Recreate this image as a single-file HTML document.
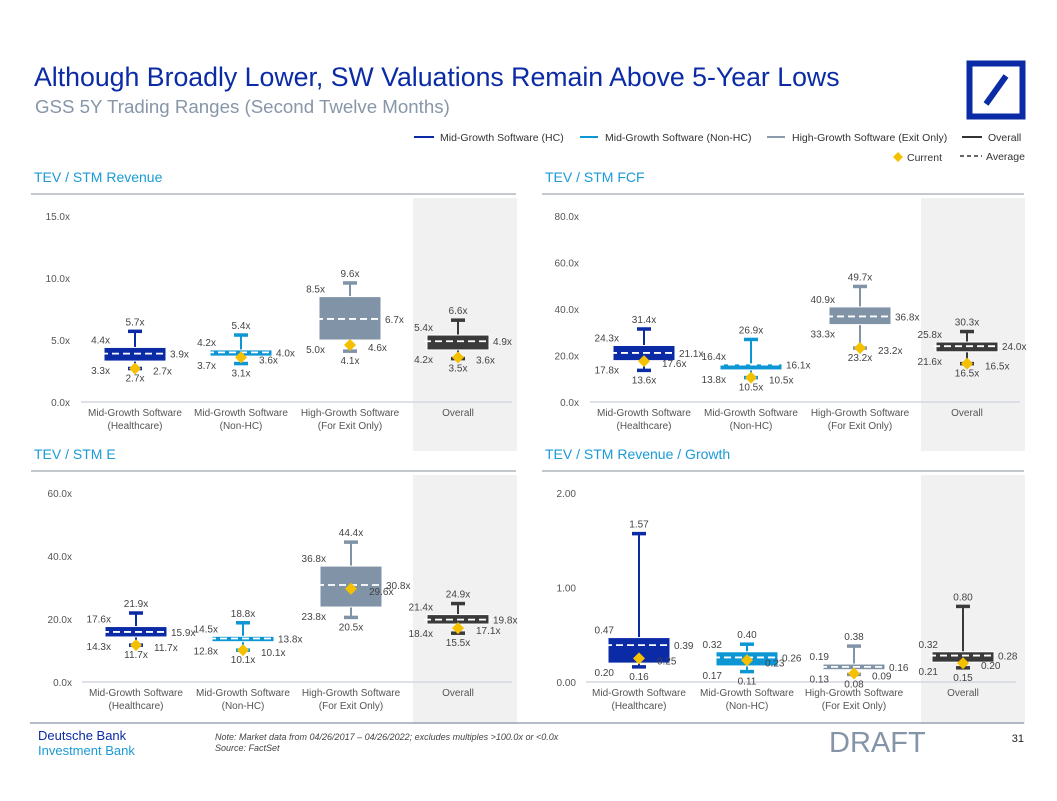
<!DOCTYPE html>
<html><head><meta charset="utf-8">
<style>
html,body{margin:0;padding:0;background:#fff;}
body{width:1057px;height:796px;overflow:hidden;font-family:"Liberation Sans",sans-serif;}
svg text{font-family:"Liberation Sans",sans-serif;}
</style></head>
<body>
<svg id="page" width="1057" height="796" viewBox="0 0 1057 796" xmlns="http://www.w3.org/2000/svg">
<text x="34" y="86" font-size="26.7" fill="#0b2ba6">Although Broadly Lower, SW Valuations Remain Above 5-Year Lows</text>
<text x="35" y="113" font-size="18.7" fill="#8796a8">GSS 5Y Trading Ranges (Second Twelve Months)</text>
<g>
<rect x="969.5" y="63.5" width="53" height="53" fill="none" stroke="#0b2ba6" stroke-width="6"/>
<line x1="986" y1="104" x2="1006" y2="76" stroke="#0b2ba6" stroke-width="6"/>
</g>
<g font-size="10.5" fill="#333">
<line x1="414" y1="137" x2="434" y2="137" stroke="#0b2ba6" stroke-width="2"/><text x="440" y="141">Mid-Growth Software (HC)</text>
<line x1="580" y1="137" x2="598" y2="137" stroke="#0d96d4" stroke-width="2"/><text x="605" y="141">Mid-Growth Software (Non-HC)</text>
<line x1="767" y1="137" x2="785" y2="137" stroke="#8a9aab" stroke-width="2"/><text x="792" y="141">High-Growth Software (Exit Only)</text>
<line x1="962" y1="137" x2="982" y2="137" stroke="#333" stroke-width="2"/><text x="988" y="141">Overall</text>
<path d="M898 152 L903 157 L898 162 L893 157 Z" fill="#f5c000"/><text x="907" y="161">Current</text>
<line x1="960" y1="156" x2="982" y2="156" stroke="#333" stroke-width="1.5" stroke-dasharray="4,3"/><text x="986" y="160">Average</text>
</g>
<g id="charts"></g>
<line x1="30" y1="723" x2="1024" y2="723" stroke="#9aa6b2" stroke-width="1.5"/>
<text x="38" y="740" font-size="13" fill="#0b2ba6">Deutsche Bank</text>
<text x="38" y="755" font-size="13" fill="#1a9ad6">Investment Bank</text>
<text x="215" y="740" font-size="9" font-style="italic" fill="#444">Note: Market data from 04/26/2017 – 04/26/2022; excludes multiples &gt;100.0x or &lt;0.0x</text>
<text x="215" y="751" font-size="9" font-style="italic" fill="#444">Source: FactSet</text>
<text x="829" y="752" font-size="29" fill="#8595a8">DRAFT</text>
<text x="1024" y="742" font-size="11" fill="#222" text-anchor="end">31</text>
</svg>
<script>
const categories = [["Mid-Growth Software","(Healthcare)"],["Mid-Growth Software","(Non-HC)"],["High-Growth Software","(For Exit Only)"],["Overall",""]];
// TEV / STM Revenue
const revMax=[5.7,5.4,9.6,6.6], revQ3=[4.4,4.2,8.5,5.4], revAvg=[3.9,4.0,6.7,4.9], revQ1=[3.3,3.7,5.0,4.2], revMin=[2.7,3.1,4.1,3.5], revCur=[2.7,3.6,4.6,3.6];
const revTicks=[0,5,10,15];
// TEV / STM FCF
const fcfMax=[31.4,26.9,49.7,30.3], fcfQ3=[24.3,16.4,40.9,25.8], fcfAvg=[21.1,16.1,36.8,24.0], fcfQ1=[17.8,13.8,33.3,21.6], fcfMin=[13.6,10.5,23.2,16.5], fcfCur=[17.6,10.5,23.2,16.5];
const fcfTicks=[0,20,40,60,80];
// TEV / STM E
const eMax=[21.9,18.8,44.4,24.9], eQ3=[17.6,14.5,36.8,21.4], eAvg=[15.9,13.8,30.8,19.8], eQ1=[14.3,12.8,23.8,18.4], eMin=[11.7,10.1,20.5,15.5], eCur=[11.7,10.1,29.6,17.1];
const eTicks=[0,20,40,60];
// TEV / STM Revenue / Growth
const gMax=[1.57,0.40,0.38,0.80], gQ3=[0.47,0.32,0.19,0.32], gAvg=[0.39,0.26,0.16,0.28], gQ1=[0.20,0.17,0.13,0.21], gMin=[0.16,0.11,0.08,0.15], gCur=[0.25,0.23,0.09,0.20];
const gTicks=[0,1,2];

const colors=["#0b2ba6","#0d96d4","#8093a7","#3a3a3a"];
const NS="http://www.w3.org/2000/svg";
const root=document.getElementById('charts');
function mk(tag,attrs,parent){const e=document.createElementNS(NS,tag);for(const k in attrs)e.setAttribute(k,attrs[k]);(parent||root).appendChild(e);return e;}
function txt(s,x,y,attrs,parent){const t=mk('text',Object.assign({x:x,y:y,'font-size':10,fill:'#444'},attrs),parent);t.textContent=s;return t;}

function panel(cfg){
  const g=mk('g',{});
  
  
  const t=txt(cfg.title,cfg.x0,cfg.titleY,{'font-size':14,fill:'#1a9ad6'},g);
  
  
  mk('line',{x1:cfg.x0-3,y1:cfg.titleY+12,x2:cfg.x1,y2:cfg.titleY+12,stroke:'#c4c8cc','stroke-width':2},g);
  const bg=mk('rect',{x:cfg.grayX,y:cfg.titleY+16,width:cfg.x1+1-cfg.grayX,height:cfg.grayH,fill:'#f1f1f1'},g);
  
  
  const tmax=cfg.ticks[cfg.ticks.length-1];
  const y=v=>cfg.zeroY-(v/tmax)*(cfg.zeroY-cfg.topY);
  const fmt=cfg.fmt;
  cfg.ticks.forEach(v=>{
    const tl=txt(cfg.tickFmt(v),cfg.tickX,y(v)+4,{'text-anchor':'end',fill:'#555'},g);
    
    
  });
  mk('line',{x1:cfg.axX0,y1:cfg.zeroY,x2:cfg.axX1,y2:cfg.zeroY,stroke:'#d4d8e0','stroke-width':1.5},g);
  const d=cfg.data;
  for(let i=0;i<4;i++){
    const cx=cfg.cx[i], c=colors[i], hw=31;
    const bx=mk('g',{},g);
    
    
    mk('line',{x1:cx,y1:y(d.max[i]),x2:cx,y2:y(d.min[i]),stroke:c,'stroke-width':2},bx);
    mk('line',{x1:cx-7,y1:y(d.max[i]),x2:cx+7,y2:y(d.max[i]),stroke:c,'stroke-width':3.5},bx);
    mk('line',{x1:cx-7,y1:y(d.min[i]),x2:cx+7,y2:y(d.min[i]),stroke:c,'stroke-width':3.5},bx);
    const top=y(d.q3[i]),bot=y(d.q1[i]);
    mk('rect',{x:cx-hw,y:top,width:2*hw,height:Math.max(bot-top,1),fill:c,stroke:'#fff','stroke-width':1},bx);
    mk('line',{x1:cx-hw-3,y1:y(d.avg[i]),x2:cx+hw+3,y2:y(d.avg[i]),stroke:'#fff','stroke-width':1.8,'stroke-dasharray':'7,4'},bx);
    const cy=y(d.cur[i]);
    mk('path',{d:`M${cx} ${cy-6} L${cx+6} ${cy} L${cx} ${cy+6} L${cx-6} ${cy} Z`,fill:'#f5c000'},bx);
    txt(fmt(d.max[i]),cx,y(d.max[i])-6,{'text-anchor':'middle'},bx);
    txt(fmt(d.q3[i]),cx-hw+6,top-4,{'text-anchor':'end'},bx);
    txt(fmt(d.q1[i]),cx-hw+6,bot+13,{'text-anchor':'end'},bx);
    txt(fmt(d.avg[i]),cx+hw+4,y(d.avg[i])+4,{},bx);
    txt(fmt(d.min[i]),cx,y(d.min[i])+13,{'text-anchor':'middle'},bx);
    txt(fmt(d.cur[i]),cx+18,cy+6,{},bx);
    categories[i].forEach((s,k)=>{
      const cl=txt(s,cx,cfg.zeroY+14+k*13,{'text-anchor':'middle',fill:'#555'},g);
      
      
    });
  }
}
const fx=v=>v.toFixed(1)+'x', f2=v=>v.toFixed(2);
panel({name:'chart-tev-stm-revenue',title:'TEV / STM Revenue',x0:34,x1:516,titleY:182,grayX:413,grayH:253,zeroY:402,topY:216,tickX:70,axX0:81,axX1:512,cx:[135,241,350,458],ticks:revTicks,tickFmt:fx,fmt:fx,data:{max:revMax,q3:revQ3,avg:revAvg,q1:revQ1,min:revMin,cur:revCur}});
panel({name:'chart-tev-stm-fcf',title:'TEV / STM FCF',x0:545,x1:1024,titleY:182,grayX:921,grayH:253,zeroY:402,topY:216,tickX:579,axX0:590,axX1:1020,cx:[644,751,860,967],ticks:fcfTicks,tickFmt:fx,fmt:fx,data:{max:fcfMax,q3:fcfQ3,avg:fcfAvg,q1:fcfQ1,min:fcfMin,cur:fcfCur}});
panel({name:'chart-tev-stm-e',title:'TEV / STM E',x0:34,x1:516,titleY:459,grayX:413,grayH:249,zeroY:682,topY:493,tickX:72,axX0:82,axX1:512,cx:[136,243,351,458],ticks:eTicks,tickFmt:fx,fmt:fx,data:{max:eMax,q3:eQ3,avg:eAvg,q1:eQ1,min:eMin,cur:eCur}});
panel({name:'chart-tev-stm-revenue-growth',title:'TEV / STM Revenue / Growth',x0:545,x1:1024,titleY:459,grayX:921,grayH:249,zeroY:682,topY:493,tickX:576,axX0:586,axX1:1016,cx:[639,747,854,963],ticks:gTicks,tickFmt:v=>v.toFixed(2),fmt:f2,data:{max:gMax,q3:gQ3,avg:gAvg,q1:gQ1,min:gMin,cur:gCur}});
</script>
</body></html>
